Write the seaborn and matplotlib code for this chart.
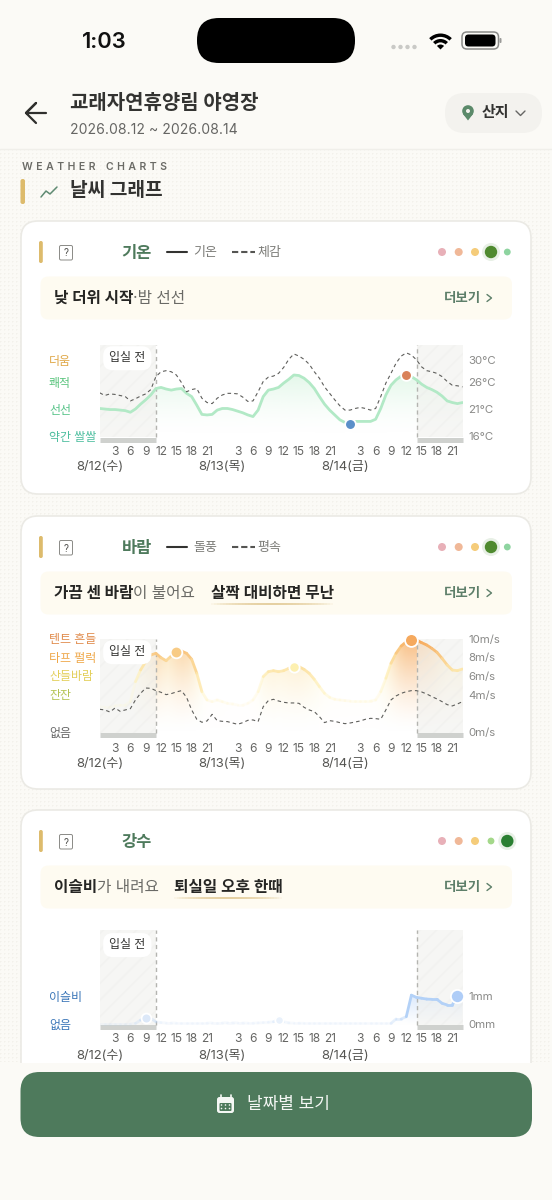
import numpy as np
import matplotlib
matplotlib.use("Agg")
import matplotlib.pyplot as plt
import seaborn as sns
from matplotlib.collections import LineCollection
from matplotlib.colors import LinearSegmentedColormap, to_rgb
from matplotlib.patches import Circle, FancyBboxPatch, Polygon, Rectangle, Wedge

W, H = 552, 1200
BG = '#FBFAF6'
GREEN = '#4E7A5C'
DARK = '#2F2F2D'

hours = np.arange(72)
hour_ticks = [3, 6, 9, 12, 15, 18, 21, 27, 30, 33, 36, 39, 42, 45, 51, 54, 57, 60, 63, 66, 69]
hour_labels = ['3', '6', '9', '12', '15', '18', '21'] * 3
day_ticks = [0, 24, 48]
day_labels = ['8/12(수)', '8/13(목)', '8/14(금)']

temp_air = [
    21.1, 21.0, 20.9, 20.9, 20.8, 20.7, 20.4, 21.0, 21.9, 22.7, 23.6, 24.8,
    25.0, 24.7, 24.5, 24.7, 24.8, 23.9, 23.3, 21.7, 20.0, 19.9, 20.0, 20.8,
    21.1, 21.1, 20.9, 20.6, 20.3, 19.9, 19.6, 20.8, 23.3, 24.5, 24.7, 25.0,
    25.8, 26.5, 27.3, 27.2, 26.7, 25.9, 24.8, 23.3, 21.9, 20.8, 19.9, 19.0,
    18.5, 18.3, 18.7, 18.7, 18.7, 18.7, 19.1, 21.1, 23.6, 25.4, 26.4, 27.1,
    27.3, 27.0, 26.4, 25.6, 25.0, 24.6, 24.1, 23.4, 22.5, 22.2, 22.0, 22.2,
]
temp_feels = [
    24.0, 23.5, 23.8, 23.7, 23.5, 23.3, 22.5, 22.9, 23.4, 23.8, 24.6, 27.0,
    27.9, 28.1, 27.9, 27.3, 25.9, 24.2, 24.6, 24.8, 23.0, 22.2, 22.0, 23.0,
    23.6, 23.9, 23.9, 23.8, 23.2, 22.4, 22.5, 24.2, 26.1, 26.9, 27.1, 27.6,
    28.7, 30.2, 31.2, 30.8, 30.2, 29.3, 27.9, 26.7, 25.1, 23.9, 22.7, 21.6,
    20.8, 20.8, 21.1, 21.3, 21.1, 20.8, 21.1, 23.3, 25.8, 27.6, 29.5, 30.8,
    31.4, 31.0, 30.1, 28.8, 28.1, 27.9, 27.6, 27.0, 26.1, 25.4, 25.3, 25.1,
]
wind_gust = [
    2.71, 2.64, 2.64, 2.79, 2.89, 2.89, 3.25, 5.39, 6.64, 7.54, 8.25, 8.43,
    7.96, 7.64, 8.14, 8.57, 8.68, 8.43, 7.79, 6.29, 4.32, 3.43, 3.25, 3.43,
    3.25, 3.07, 3.00, 2.89, 2.89, 3.07, 3.43, 4.32, 5.93, 6.46, 6.57, 6.46,
    6.57, 6.82, 7.00, 7.00, 6.71, 6.29, 5.64, 4.86, 4.14, 3.71, 3.50, 3.43,
    3.36, 3.32, 3.32, 3.32, 3.32, 3.32, 3.43, 4.32, 5.75, 7.36, 8.43, 9.21,
    9.68, 9.86, 9.86, 9.57, 9.32, 8.96, 8.54, 7.89, 7.18, 6.64, 6.57, 6.75,
]
wind_mean = [
    2.43, 2.36, 2.14, 2.57, 2.21, 2.36, 2.50, 3.43, 4.14, 4.71, 4.68, 4.43,
    4.25, 4.00, 4.11, 4.29, 4.43, 3.71, 2.36, 1.36, 1.04, 1.18, 1.89, 1.21,
    1.14, 1.11, 0.96, 0.82, 1.00, 1.25, 1.29, 1.11, 2.71, 3.36, 3.50, 3.32,
    3.18, 3.11, 3.11, 3.07, 2.64, 2.36, 2.18, 1.64, 1.00, 1.21, 1.14, 1.00,
    0.89, 0.96, 1.07, 1.18, 1.36, 1.46, 1.43, 1.36, 2.36, 3.43, 3.86, 4.14,
    4.32, 4.43, 4.43, 4.29, 4.07, 3.79, 3.54, 3.25, 2.93, 2.79, 3.00, 3.25,
]
rain = [
    0.00, 0.00, 0.00, 0.00, 0.00, 0.00, 0.00, 0.02, 0.14, 0.23, 0.20, 0.08,
    0.05, 0.04, 0.04, 0.03, 0.03, 0.03, 0.03, 0.03, 0.03, 0.03, 0.04, 0.04,
    0.04, 0.05, 0.05, 0.04, 0.04, 0.03, 0.03, 0.04, 0.05, 0.06, 0.08, 0.14,
    0.08, 0.04, 0.03, 0.03, 0.02, 0.02, 0.02, 0.02, 0.02, 0.02, 0.02, 0.02,
    0.02, 0.02, 0.02, 0.02, 0.02, 0.02, 0.02, 0.02, 0.02, 0.02, 0.18, 0.18,
    0.26, 1.03, 0.95, 0.92, 0.89, 0.88, 0.88, 0.74, 0.68, 0.68, 1.00, 1.00,
]

temp_ticks = [30, 26, 21, 16]
temp_right = ['30°C', '26°C', '21°C', '16°C']
temp_names = ['더움', '쾌적', '선선', '약간 쌀쌀']
temp_colors = ['#E0A94A', '#5CC57F', '#59C58A', '#4FBFA0']
wind_ticks = [10, 8, 6, 4, 0]
wind_right = ['10m/s', '8m/s', '6m/s', '4m/s', '0m/s']
wind_names = ['텐트 흔들', '타프 펄럭', '산들바람', '잔잔', '없음']
wind_colors = ['#E08A4A', '#EFA84A', '#E3CF5A', '#B5C455', '#666666']
rain_ticks = [1, 0]
rain_right = ['1mm', '0mm']
rain_names = ['이슬비', '없음']
rain_colors = ['#3B76B8', '#3B76B8']

sns.set_theme(style='white')
plt.rcParams['font.family'] = ['Inter', 'Noto Sans CJK KR', 'DejaVu Sans']
plt.rcParams['hatch.linewidth'] = 1.3

fig = plt.figure(figsize=(W / 100, H / 100), dpi=100, facecolor=BG)
bg = fig.add_axes([0, 0, 1, 1], zorder=0)
bg.set_xlim(0, W)
bg.set_ylim(H, 0)
bg.axis('off')


def px(size):
    return size * 0.72


def label(x, y, s, size, color=DARK, weight='normal', ha='left', ax=bg, zorder=6):
    return ax.text(x, y + 1.5, s, fontsize=px(size), color=color, fontweight=weight,
                   ha=ha, va='center', zorder=zorder)


def round_box(x0, y0, x1, y1, r, fc, ec='none', lw=0, zorder=2):
    box = FancyBboxPatch((x0 + r, y0 + r), x1 - x0 - 2 * r, y1 - y0 - 2 * r,
                         boxstyle=f'round,pad={r},rounding_size={r}',
                         fc=fc, ec=ec, lw=lw, zorder=zorder)
    bg.add_patch(box)


def underline(x0, x1, y):
    # gold stroke that fades out at both ends
    xs = np.linspace(x0, x1, 41)
    segs = [[(xs[i], y), (xs[i + 1], y)] for i in range(40)]
    fade = np.sin(np.linspace(0.05, np.pi - 0.05, 40)) ** 0.7
    rgba = [(*to_rgb('#E3CC9A'), a) for a in fade]
    bg.add_collection(LineCollection(segs, colors=rgba, linewidths=1.3, zorder=4))


# page texture under the cards
tex = np.zeros((1062 - 149, W, 4))
tex[..., :3] = to_rgb('#EDEBE3')
tex[::4, ::4, 3] = 0.55
tex[1::4, ::4, 3] = 0.3
tex[::4, 1::4, 3] = 0.3
bg.imshow(tex, extent=(0, W, 1062, 149), interpolation='nearest', aspect='auto', zorder=1)
bg.set_xlim(0, W)
bg.set_ylim(H, 0)

# status bar
label(82, 41, '1:03', 22, '#111111', 'semibold')
round_box(197, 18, 355, 63, 22, '#000000')
for x in [393.5, 400.5, 407.5, 414.5]:
    bg.add_patch(Circle((x, 47), 2.2, fc='#C9C9C6', ec='none', zorder=3))
bg.add_patch(Wedge((440.5, 49.5), 16, 225, 315, width=3.4, fc='#000000', ec='none', zorder=3))
bg.add_patch(Wedge((440.5, 49.5), 10.5, 225, 315, width=3.4, fc='#000000', ec='none', zorder=3))
bg.add_patch(Wedge((440.5, 49.5), 5, 225, 315, fc='#000000', ec='none', zorder=3))
round_box(462, 32, 498.5, 49, 5, 'none', '#8A8A88', 1.1, 3)
round_box(465, 34.5, 495.5, 46.5, 3.5, '#000000', zorder=3)
round_box(499.5, 38, 501.5, 43, 1, '#9A9A98', zorder=3)

# header
bg.plot([46, 26, 36, 26, 36], [113, 113, 103, 113, 123], color=DARK, lw=1.6,
        solid_capstyle='round', solid_joinstyle='round', zorder=3)
label(70, 102, '교래자연휴양림 야영장', 20, '#333331', 'bold')
label(70, 128, '2026.08.12 ~ 2026.08.14', 14, '#666664')
round_box(445, 93, 542, 133, 20, '#F3F2EE')
bg.add_patch(Circle((468, 111), 5.8, fc='#5B8A6A', ec='none', zorder=3))
bg.add_patch(Polygon([(463, 114), (473, 114), (468, 120.5)], fc='#5B8A6A', ec='none', zorder=3))
bg.add_patch(Circle((468, 111), 2, fc='#F3F2EE', ec='none', zorder=4))
label(482, 112, '산지', 15, '#333331', 'semibold')
bg.plot([516, 520.5, 525], [111, 115.5, 111], color='#666664', lw=1, zorder=3)
bg.plot([0, W], [148.5, 148.5], color='#F0EFEA', lw=1, zorder=2)

label(22, 165, 'W\u2004E\u2004A\u2004T\u2004H\u2004E\u2004R\u2003C\u2004H\u2004A\u2004R\u2004T\u2004S', 10.5,
      '#6B6B66', 'semibold')
round_box(20.5, 179, 25, 204, 2, '#DDBB6C', zorder=3)
bg.plot([41, 46, 50, 57], [197, 191, 194, 187], color='#5E8A72', lw=1.1, zorder=3)
label(70, 190, '날씨 그래프', 19.2, '#333331', 'bold')


def card_frame(top, bottom, title, dot_big, dot_colors, legend=None):
    round_box(21, top, 531, bottom, 17, '#FFFFFF', '#EBEAE5', 1.2, 2)
    mid = top + 31
    round_box(39, mid - 11, 42.8, mid + 11, 1.8, '#DDBB6C', zorder=3)
    round_box(59.5, mid - 6.5, 72.5, mid + 8, 1.5, 'none', '#8A8A86', 0.7, 3)
    label(66, mid, '?', 10, '#555552', ha='center')
    label(121.5, mid, title, 16.5, GREEN, 'bold')
    if legend:
        bg.plot([167, 187], [mid, mid], color='#333331', lw=1.5, zorder=3)
        label(193, mid - 0.5, legend[0], 13, '#7C7C78')
        bg.plot([232, 255], [mid, mid], color='#555552', lw=1.5, ls=(0, (3, 1.4)), zorder=3)
        label(257, mid - 0.5, legend[1], 13, '#7C7C78')
    for i, (x, c) in enumerate(zip([442, 458.7, 475, 491, 507.3], dot_colors)):
        if i == dot_big:
            bg.add_patch(Circle((x, mid), 9, fc='#E8F0E6', ec='none', zorder=3))
            bg.add_patch(Circle((x, mid), 6.2, fc=c, ec='none', zorder=4))
        else:
            r = 3.4 if i >= 3 else 4
            bg.add_patch(Circle((x, mid), r, fc=c, ec='none', zorder=3))
    round_box(40.5, mid + 24.5, 512, mid + 67.5, 8, '#FEFBF1', zorder=3)
    label(444, mid + 44.5, '더보기', 13.5, '#5E7F6A', 'semibold')
    bg.plot([487, 491.5, 487], [mid + 42.5, mid + 46, mid + 49.5], color='#5E7F6A', lw=1, zorder=4)
    return mid + 45


DOTS_A = ['#E8B0B8', '#F0B898', '#F5CC7A', '#4F8A2F', '#8ED4A0']
DOTS_C = ['#E8B0B8', '#F0B898', '#F5CC7A', '#A4D88A', '#2A7F32']

y1 = card_frame(221, 494, '기온', 3, DOTS_A, ('기온', '체감'))
label(54, y1, '낮 더위 시작', 15.7, '#262624', 'bold')
label(133, y1, '·밤 선선', 15.7, '#6A6A66')
y2 = card_frame(516, 789, '바람', 3, DOTS_A, ('돌풍', '평속'))
label(54, y2, '가끔 센 바람', 15.7, '#262624', 'bold')
label(133, y2, '이 불어요', 15.7, '#6A6A66')
label(211, y2, '살짝 대비하면 무난', 15.7, '#262624', 'semibold')
underline(211, 333, y2 + 12)
y3 = card_frame(810, 1100, '강수', 4, DOTS_C)
label(54, y3, '이슬비', 15.7, '#262624', 'bold')
label(97, y3, '가 내려요', 15.7, '#6A6A66')
label(174, y3, '퇴실일 오후 한때', 15.7, '#262624', 'semibold')
underline(174, 282, y3 + 12)

# footer
bg.add_patch(Rectangle((0, 1062.5), W, H - 1062.5, fc=BG, ec='none', zorder=5))
round_box(20.5, 1072, 532, 1137, 19, GREEN, zorder=6)
round_box(217, 1097, 234, 1113, 2.5, '#F4F7F4', zorder=7)
round_box(219.5, 1103, 231.5, 1111, 1, GREEN, zorder=8)
for x in [221.5, 225.5, 229.5]:
    for y in [1105, 1108.5]:
        bg.add_patch(Circle((x, y), 0.8, fc='#F4F7F4', ec='none', zorder=9))
bg.plot([220.5, 220.5], [1095, 1099], color='#F4F7F4', lw=1.2, zorder=7)
bg.plot([230.5, 230.5], [1095, 1099], color='#F4F7F4', lw=1.2, zorder=7)
label(247, 1103, '날짜별 보기', 17, '#F4F7F4', ha='left', zorder=7)

X0, X1 = 99.7, 462.5


def chart_axes(top, bottom, y_top, y_bottom, ticks, names, colors, right, tick_pad, day_pad):
    ax = fig.add_axes([X0 / W, 1 - bottom / H, (X1 - X0) / W, (bottom - top) / H], zorder=3)
    ax.patch.set_alpha(0)
    sns.despine(ax=ax, left=True, bottom=True)
    ax.set_xlim(0, 71)
    ax.set_ylim(y_bottom, y_top)
    ax.set_xticks(hour_ticks, hour_labels)
    ax.set_xticks(day_ticks, day_labels, minor=True)
    ax.tick_params(axis='x', which='major', length=0, pad=tick_pad, labelsize=px(12), labelcolor='#666664')
    ax.tick_params(axis='x', which='minor', length=0, pad=day_pad, labelsize=px(13), labelcolor='#555552')
    ax.set_yticks(ticks, names)
    ax.tick_params(axis='y', length=0, pad=36.5, labelsize=px(12))
    for t, c in zip(ax.get_yticklabels(), colors):
        t.set_color(c)
        t.set_ha('left')
        t.set_fontweight('medium')
    twin = ax.twinx()
    twin.patch.set_alpha(0)
    sns.despine(ax=twin, left=True, bottom=True, right=True)
    twin.set_ylim(y_bottom, y_top)
    twin.set_yticks(ticks, right)
    twin.tick_params(axis='y', length=0, pad=4.2, labelsize=px(11.5), labelcolor='#8A8A88')
    ax.grid(False)
    twin.grid(False)
    return ax


def before_after(ax, shade_top, shade_bottom, bar_y, badge_y):
    for a, b in [(0, 11), (62, 71)]:
        ax.add_patch(Rectangle((a, shade_bottom), b - a, shade_top - shade_bottom, fc=(0.945, 0.945, 0.935, 0.6),
                               ec=(0.91, 0.91, 0.90, 0.28), hatch='//', lw=0, zorder=2))
        ax.plot([a, b], [bar_y, bar_y], color='#CFD1CE', lw=3.6, solid_capstyle='butt', zorder=3, clip_on=False)
        end = b if a == 0 else a
        ax.plot([end, end], [shade_bottom, shade_top], color='#B4B4B0', lw=1, ls=(0, (3, 2.5)), zorder=3)
    ax.text(5.4, badge_y, '입실 전', fontsize=px(12), color='#333331', fontweight='medium', ha='center', va='center',
            zorder=8, bbox=dict(boxstyle='round,pad=0.5,rounding_size=0.8', fc='white', ec='none'))


def fade_fill(ax, values, base, cmap, strength, gain, power=1.4):
    rows = 90
    ymin, ymax = ax.get_ylim()
    ys = np.linspace(ymin, ymax, rows)
    values = np.asarray(values, dtype=float)
    img = np.zeros((rows, len(values), 4))
    img[..., :3] = cmap(strength(values))[:, :3]
    t = np.clip((ys[:, None] - base) / np.maximum(values - base, 1e-3), 0, 1)
    img[..., 3] = t ** power * strength(values) * gain
    im = ax.imshow(img, origin='lower', extent=(0, 71, ymin, ymax), aspect='auto',
                   interpolation='bilinear', zorder=1)
    area = ax.fill_between(hours, values, base, color='none', lw=0)
    im.set_clip_path(area.get_paths()[0], transform=ax.transData)
    ax.set_xlim(0, 71)
    ax.set_ylim(ymin, ymax)


def colour_line(ax, values, colors, lw=2.0):
    pts = np.column_stack([hours, values])
    segs = np.stack([pts[:-1], pts[1:]], axis=1)
    ax.add_collection(LineCollection(segs, colors=colors, linewidths=lw, capstyle='round', zorder=4))


def dash_line(ax, values):
    sns.lineplot(x=hours, y=values, ax=ax, color='#5F5F5C', lw=0.8, linestyle=(0, (3.2, 2.8)), zorder=5)


def point(ax, hour, value, color, size=60):
    ax.scatter([hour], [value], s=size, color=color, edgecolor='white', linewidth=1.3, zorder=6, clip_on=False)


# temperature card
ax1 = chart_axes(344, 442, 33.04, 14.89, temp_ticks, temp_names, temp_colors, temp_right, 3, 14)
green = LinearSegmentedColormap.from_list('g', ['#DDF5E3', '#BDECCB'])
fade_fill(ax1, temp_air, 16, green, lambda v: np.clip((v - 17.5) / 10, 0.05, 1), 0.42, 1.6)
before_after(ax1, 32.9, 15.8, 15.3, 30.4)
sns.lineplot(x=hours, y=temp_air, ax=ax1, color='#B2E9C6', lw=2.0, zorder=4)
dash_line(ax1, temp_feels)
point(ax1, 60, temp_air[60], '#D9825A')
point(ax1, 49, temp_air[49], '#5B8FC9')

# wind card
ax2 = chart_axes(630, 737, 10.93, -0.54, wind_ticks, wind_names, wind_colors, wind_right, 4, 15)
amber = LinearSegmentedColormap.from_list('a', ['#FFF8D0', '#FFF1B8', '#FBD898', '#F6A85A'])
wind_norm = lambda v: np.clip((np.asarray(v) - 2.5) / 7.4, 0, 1) ** 1.2
fade_fill(ax2, wind_gust, -0.3, amber, wind_norm, 0.75, power=1.6)
before_after(ax2, 10.0, -0.1, -0.33, 8.55)
line_rgba = amber(wind_norm(wind_gust))
line_rgba[:, 3] = np.clip((np.asarray(wind_gust) - 2.0) / 5.0, 0.1, 1)
colour_line(ax2, wind_gust, line_rgba[:-1])
dash_line(ax2, wind_mean)
point(ax2, 15, wind_gust[15], '#F8CB85', 70)
point(ax2, 38, wind_gust[38], '#FDF0B0', 55)
point(ax2, 61, wind_gust[61], '#F5A95E', 85)

# rain card
ax3 = chart_axes(930, 1029, 3.36, -0.18, rain_ticks, rain_names, rain_colors, rain_right, 3, 15)
blue = LinearSegmentedColormap.from_list('b', ['#E6F0FC', '#C6DCF9'])
fade_fill(ax3, rain, -0.05, blue, lambda v: np.clip(np.asarray(v) / 1.0, 0.02, 1), 0.6, power=1.0)
before_after(ax3, 3.35, -0.04, -0.11, 2.82)
rain_rgba = np.tile(np.array([*to_rgb('#B3D1F7'), 1.0]), (72, 1))
rain_rgba[:, 3] = np.clip(np.maximum(rain, np.roll(rain, -1)) / 0.6, 0.1, 1)
colour_line(ax3, rain, rain_rgba[:-1])
point(ax3, 9, rain[9], '#DCE8F8', 50)
point(ax3, 35, rain[35], '#E9F1FB', 36)
point(ax3, 70, rain[70], '#AFCDF7', 90)

fig.savefig('out.png', dpi=100, facecolor=BG)
